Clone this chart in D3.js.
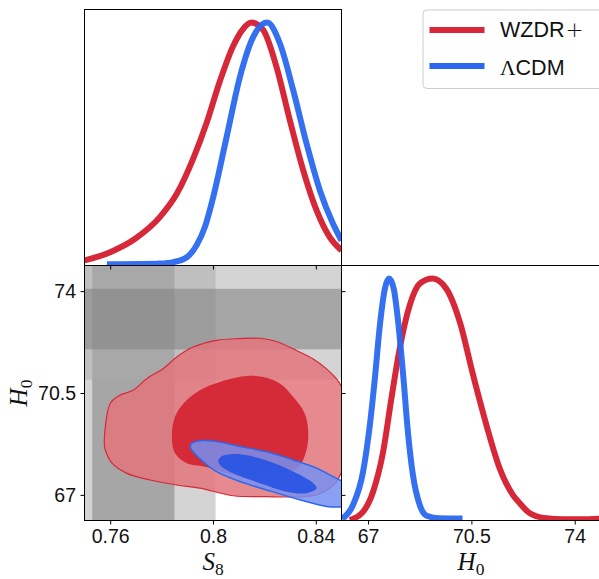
<!DOCTYPE html>
<html><head><meta charset="utf-8">
<script src="https://cdn.jsdelivr.net/npm/d3@7"></script>
<style>body{margin:0;background:#fff}svg{display:block}</style>
</head><body>
<svg id="c" width="599" height="579"></svg>
<script>
// ---------------- data ----------------
const seriesNames = ["WZDR+", "ΛCDM"];
const seriesColors = ["#d62839", "#2a68ef"];

const s8Ticks = [0.76, 0.8, 0.84];
const s8TickLabels = ["0.76", "0.8", "0.84"];
const h0Ticks = [67, 70.5, 74];
const h0TickLabels = ["67", "70.5", "74"];

// external priors (S8: 0.769 ± 0.016, H0: 73.04 ± 1.04) — 1σ and 2σ bands
const s8BandLo = [0.737, 0.753];
const s8BandHi = [0.801, 0.785];
const h0BandLo = [70.96, 72.00];
const h0BandHi = [75.12, 74.08];

// 1D marginal S8
const wzdrS8x = [0.7500,0.7600,0.7697,0.7794,0.7859,0.7923,0.7976,0.8027,0.8079,0.8118,0.8150,0.8195,0.8247,0.8299,0.8351,0.8403,0.8454,0.8500];
const wzdrS8p = [0.021,0.055,0.110,0.200,0.295,0.440,0.590,0.760,0.905,0.975,1.000,0.970,0.818,0.598,0.392,0.227,0.117,0.062];
const lcdmS8x = [0.7587,0.7717,0.7794,0.7846,0.7898,0.7937,0.7969,0.8001,0.8053,0.8105,0.8157,0.8211,0.8260,0.8312,0.8364,0.8416,0.8467,0.8500];
const lcdmS8p = [0.005,0.006,0.008,0.014,0.034,0.085,0.160,0.282,0.529,0.777,0.942,1.000,0.915,0.722,0.502,0.309,0.172,0.103];

// 1D marginal H0
const wzdrH0x = [66.38,66.83,67.17,67.51,67.79,68.07,68.41,68.75,69.18,69.65,70.11,70.56,71.01,71.46,71.91,72.14,72.48,73.04,73.60,74.20,74.88];
const wzdrH0p = [0.002,0.036,0.119,0.284,0.504,0.710,0.889,0.979,1.000,0.958,0.820,0.600,0.394,0.215,0.105,0.071,0.030,0.009,0.005,0.005,0.008];
const lcdmH0x = [66.12,66.49,66.83,67.06,67.23,67.40,67.57,67.71,67.87,68.02,68.19,68.35,68.52,68.75,68.98,69.43,70.20];
const lcdmH0p = [0.006,0.064,0.201,0.394,0.587,0.807,0.958,1.000,0.958,0.820,0.600,0.366,0.188,0.064,0.020,0.009,0.008];

// 2D contours (S8, H0)
const wzdrOuterS8 = [0.7577,0.7600,0.7632,0.7690,0.7743,0.7807,0.7859,0.7923,0.8014,0.8105,0.8183,0.8247,0.8325,0.8390,0.8442,0.8480,0.8501,0.8515,0.8525,0.8522,0.8505,0.8474,0.8403,0.8309,0.8209,0.8079,0.7950,0.7859,0.7755,0.7665,0.7607,0.7581];
const wzdrOuterH0 = [68.77,70.14,70.40,70.60,71.00,71.34,71.74,72.08,72.31,72.37,72.38,72.27,71.96,71.67,71.33,70.99,70.70,70.20,69.50,68.60,67.90,67.38,67.00,66.93,66.94,66.97,67.23,67.34,67.51,67.74,68.09,68.54];
const wzdrInnerS8 = [0.8131,0.8027,0.7950,0.7885,0.7852,0.7840,0.7852,0.7898,0.7969,0.8124,0.8252,0.8330,0.8364,0.8370,0.8357,0.8312,0.8260,0.8195];
const wzdrInnerH0 = [71.08,70.88,70.60,70.14,69.68,69.00,68.43,68.09,67.97,67.63,67.69,67.93,68.54,69.23,69.80,70.37,70.83,71.05];
const lcdmOuterS8 = [0.7911,0.7917,0.7950,0.8014,0.8105,0.8209,0.8312,0.8403,0.8467,0.8504,0.8551,0.8551,0.8504,0.8442,0.8338,0.8209,0.8105,0.8014,0.7962,0.7923];
const lcdmOuterH0 = [68.66,68.77,68.86,68.83,68.66,68.48,68.20,67.92,67.63,67.46,67.24,66.56,66.58,66.60,66.83,67.17,67.46,67.80,68.14,68.48];
const lcdmInnerS8 = [0.8021,0.8040,0.8105,0.8209,0.8312,0.8390,0.8403,0.8364,0.8286,0.8183,0.8079,0.8027];
const lcdmInnerH0 = [68.20,68.35,68.40,68.18,67.80,67.40,67.23,67.06,67.11,67.40,67.74,68.03];

// ---------------- layout ----------------
const L = 84.5, R1 = 341.5, R2 = 599.5, T = 9.5, M = 265.5, B = 520.5;
const svg = d3.select("#c");
const xS8 = d3.scaleLinear([0.75, 0.85], [L, R1]);
const yH0 = d3.scaleLinear([66.12, 74.88], [B, M]);
const xH0 = d3.scaleLinear([66.10, 74.84], [R1, R2]);
const yTop = d3.scaleLinear([0, 1.054], [M, T]);
const yRight = d3.scaleLinear([0, 1.054], [B, M]);

const defs = svg.append("defs");
function clip(id, x, y, w, h) {
  defs.append("clipPath").attr("id", id).append("rect").attr("x", x).attr("y", y).attr("width", w).attr("height", h);
}
clip("cTop", L, T, R1 - L, M - T);
clip("c2d", L, M, R1 - L, B - M);
clip("cRight", R1, M, R2 - R1, B - M);

const zip = (a, b) => a.map((v, i) => [v, b[i]]);

// ---- 2D panel: bands ----
const g2 = svg.append("g").attr("clip-path", "url(#c2d)");
const bandFill = ["#a9a9a9", "#808080"];
const bandOp = [0.5, 0.55];
s8BandLo.forEach((lo, i) => {
  g2.append("rect").attr("x", xS8(lo)).attr("width", xS8(s8BandHi[i]) - xS8(lo))
    .attr("y", M - 5).attr("height", B - M + 10)
    .attr("fill", bandFill[i]).attr("fill-opacity", bandOp[i]);
});
h0BandLo.forEach((lo, i) => {
  g2.append("rect").attr("y", yH0(h0BandHi[i])).attr("height", yH0(lo) - yH0(h0BandHi[i]))
    .attr("x", L - 5).attr("width", R1 - L + 10)
    .attr("fill", bandFill[i]).attr("fill-opacity", bandOp[i]);
});

// ---- 2D contours ----
const closedLine = d3.line().x(d => xS8(d[0])).y(d => yH0(d[1])).curve(d3.curveCatmullRomClosed.alpha(0.5));
g2.append("path").attr("d", closedLine(zip(wzdrOuterS8, wzdrOuterH0)))
  .attr("fill", "rgb(226,117,123)").attr("fill-opacity", 0.85)
  .attr("stroke", seriesColors[0]).attr("stroke-width", 1.2);
g2.append("path").attr("d", closedLine(zip(wzdrInnerS8, wzdrInnerH0)))
  .attr("fill", "rgb(212,38,52)").attr("fill-opacity", 0.95);
g2.append("path").attr("d", closedLine(zip(lcdmOuterS8, lcdmOuterH0)))
  .attr("fill", "rgb(117,143,242)").attr("fill-opacity", 0.85)
  .attr("stroke", seriesColors[1]).attr("stroke-width", 1.5);
g2.append("path").attr("d", closedLine(zip(lcdmInnerS8, lcdmInnerH0)))
  .attr("fill", "rgb(35,82,228)").attr("fill-opacity", 0.88);

// ---- 1D curves ----
const gT = svg.append("g").attr("clip-path", "url(#cTop)");
const lineTop = d3.line().x(d => xS8(d[0])).y(d => yTop(d[1])).curve(d3.curveMonotoneX);
gT.append("path").attr("d", lineTop(zip(wzdrS8x, wzdrS8p))).attr("fill", "none")
  .attr("stroke", seriesColors[0]).attr("stroke-width", 6);
gT.append("path").attr("d", lineTop(zip(lcdmS8x, lcdmS8p))).attr("fill", "none")
  .attr("stroke", seriesColors[1]).attr("stroke-width", 6).attr("stroke-opacity", 0.95);

const gR = svg.append("g").attr("clip-path", "url(#cRight)");
const lineRight = d3.line().x(d => xH0(d[0])).y(d => yRight(d[1])).curve(d3.curveMonotoneX);
gR.append("path").attr("d", lineRight(zip(wzdrH0x, wzdrH0p))).attr("fill", "none")
  .attr("stroke", seriesColors[0]).attr("stroke-width", 6);
gR.append("path").attr("d", lineRight(zip(lcdmH0x, lcdmH0p))).attr("fill", "none")
  .attr("stroke", seriesColors[1]).attr("stroke-width", 6).attr("stroke-opacity", 0.95);

// ---- frames ----
[[L, T, R1, M], [L, M, R1, B], [R1, M, R2, B]].forEach(([x0, y0, x1, y1]) => {
  svg.append("rect").attr("x", x0).attr("y", y0).attr("width", x1 - x0).attr("height", y1 - y0)
    .attr("fill", "none").attr("stroke", "#000").attr("stroke-width", 1);
});

// ---- axes ----
const tickFont = "'Liberation Sans', Arial, sans-serif";
function styleAxis(g) {
  g.select(".domain").remove();
  g.selectAll(".tick line").attr("stroke", "#000").attr("stroke-width", 1);
  g.selectAll(".tick text").attr("fill", "#111").style("font-family", tickFont).style("font-size", "19.5px");
}
svg.append("g").attr("transform", `translate(0,${M})`)
  .call(d3.axisBottom(xS8).tickValues(s8Ticks).tickSize(4).tickFormat(() => "")).call(styleAxis);
svg.append("g").attr("transform", `translate(0,${B})`)
  .call(d3.axisBottom(xS8).tickValues(s8Ticks).tickSize(4).tickPadding(5).tickFormat((d, i) => s8TickLabels[i])).call(styleAxis);
svg.append("g").attr("transform", `translate(${L},0)`)
  .call(d3.axisLeft(yH0).tickValues(h0Ticks).tickSize(4).tickPadding(4.5).tickFormat((d, i) => h0TickLabels[i])).call(styleAxis);
svg.append("g").attr("transform", `translate(${R1},0)`)
  .call(d3.axisRight(yH0).tickValues(h0Ticks).tickSize(4).tickFormat(() => "")).call(styleAxis);
svg.append("g").attr("transform", `translate(0,${B})`)
  .call(d3.axisBottom(xH0).tickValues(h0Ticks).tickSize(4).tickPadding(5).tickFormat((d, i) => h0TickLabels[i])).call(styleAxis);

// ---- axis labels ----
const serif = "'Liberation Serif', 'Times New Roman', serif";
function mathLabel(sel, main, sub) {
  sel.style("font-family", serif).style("font-size", "25px").attr("fill", "#111").attr("text-anchor", "middle");
  sel.append("tspan").style("font-style", "italic").text(main);
  sel.append("tspan").attr("dy", 5).style("font-size", "17.5px").text(sub);
}
mathLabel(svg.append("text").attr("x", (L + R1) / 2).attr("y", 570), "S", "8");
mathLabel(svg.append("text").attr("x", 471).attr("y", 570), "H", "0");
mathLabel(svg.append("text").attr("transform", `translate(27,${(M + B) / 2}) rotate(-90)`), "H", "0");

// ---- legend ----
const lg = svg.append("g");
lg.append("rect").attr("x", 423).attr("y", 10).attr("width", 185).attr("height", 78.5).attr("rx", 4)
  .attr("fill", "#fff").attr("fill-opacity", 0.85).attr("stroke", "#cccccc").attr("stroke-width", 1);
const legY = [30, 66], legText = [37, 75];
seriesNames.forEach((name, i) => {
  lg.append("line").attr("x1", 429.5).attr("x2", 484.5).attr("y1", legY[i]).attr("y2", legY[i])
    .attr("stroke", seriesColors[i]).attr("stroke-width", 6);
  const t = lg.append("text").attr("x", 500).attr("y", legText[i]).attr("fill", "#111")
    .style("font-family", tickFont).style("font-size", "21.5px");
  if (name.endsWith("+")) {
    t.append("tspan").text(name.slice(0, -1));
    t.append("tspan").attr("dx", 1).style("font-family", "'DejaVu Sans'").style("font-weight", "300").text("+");
  } else if (name.startsWith("Λ")) {
    t.append("tspan").style("font-family", serif).text("Λ");
    t.append("tspan").text(name.slice(1));
  } else {
    t.text(name);
  }
});
</script>
</body></html>
